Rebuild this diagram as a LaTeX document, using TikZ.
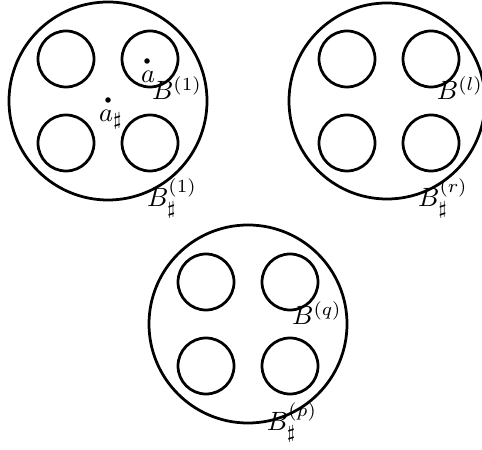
\documentclass[tikz,border=0pt]{standalone}
\usepackage{amssymb}
\begin{document}
\begin{tikzpicture}[x=0.0166cm,y=-0.0166cm,line width=1.3pt,
    hole/.style={draw,line width=1.3pt},
    pt node/.style={circle,fill=black,inner sep=0pt,minimum size=2.6pt},
    lab/.style={inner sep=0pt,scale=1.25}]
    \useasboundingbox (0,0) rectangle (482,450);
    % first disc
    \draw (108,101) circle (99);
    \draw [hole] (66,59) circle (28);
    \draw [hole] (150,59) circle (28);
    \draw [hole] (66,143) circle (28);
    \draw [hole] (150,143) circle (28);
    \node at (147,61) [pt node] (a) {};
    \node at (108,100) [pt node] (as) {};
    \node at (148,77) [lab] (la) {$a$};
    \node at (111,120) [lab] (las) {$a_\sharp$};
    \node at (177,88) [lab] (B1) {$B^{(1)}$};
    \node at (172,198) [lab] (Bs1) {$B^{(1)}_\sharp$};
    % second disc
    \draw (387,101) circle (98);
    \draw [hole] (347,59) circle (28);
    \draw [hole] (431,59) circle (28);
    \draw [hole] (347,143) circle (28);
    \draw [hole] (431,143) circle (28);
    \node at (460,88) [lab] (Bl) {$B^{(l)}$};
    \node at (443,198) [lab] (Bsr) {$B^{(r)}_\sharp$};
    % third disc
    \draw (248,324) circle (99);
    \draw [hole] (206,282) circle (28);
    \draw [hole] (290,282) circle (28);
    \draw [hole] (206,366) circle (28);
    \draw [hole] (290,366) circle (28);
    \node at (317,313) [lab] (Bq) {$B^{(q)}$};
    \node at (292,422) [lab] (Bsp) {$B^{(p)}_\sharp$};
\end{tikzpicture}
\end{document}
